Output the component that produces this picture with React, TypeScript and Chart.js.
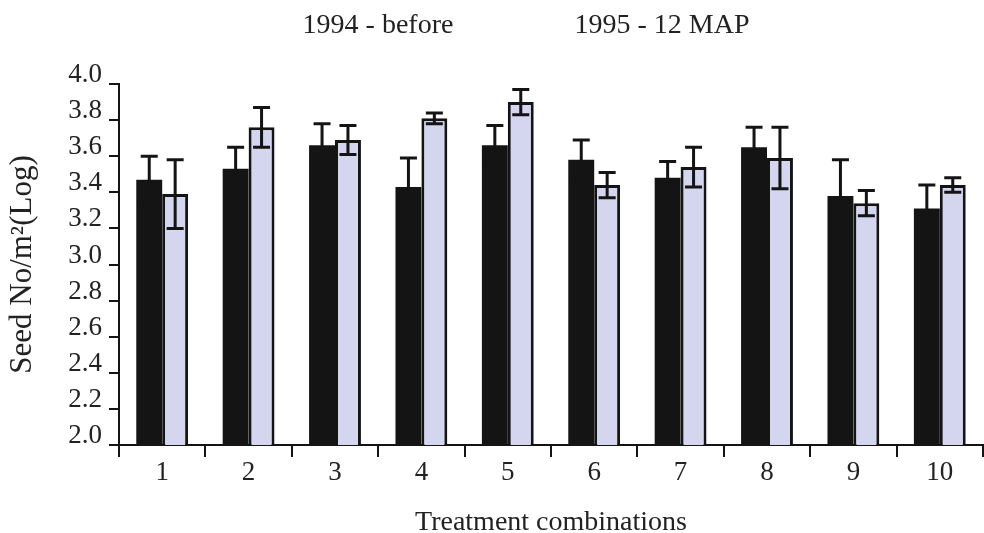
import React, { useEffect, useRef } from "react";
import { Chart, registerables } from "chart.js";

Chart.register(...registerables);

const categories = ["1", "2", "3", "4", "5", "6", "7", "8", "9", "10"];
const seriesNames = ["1994 - before", "1995 - 12 MAP"];
const before1994 = [3.47, 3.53, 3.66, 3.43, 3.66, 3.58, 3.48, 3.65, 3.38, 3.31];
const before1994Err = [0.13, 0.12, 0.12, 0.16, 0.11, 0.11, 0.09, 0.11, 0.2, 0.13];
const map1995 = [3.39, 3.76, 3.69, 3.81, 3.9, 3.44, 3.54, 3.59, 3.34, 3.44];
const map1995Err = [0.19, 0.11, 0.08, 0.03, 0.07, 0.07, 0.11, 0.17, 0.07, 0.04];
const yTicks = [2.0, 2.2, 2.4, 2.6, 2.8, 3.0, 3.2, 3.4, 3.6, 3.8, 4.0];

const FONT = "'Liberation Serif', 'Times New Roman', serif";
const INK = "#141414";

const errorBarPlugin = {
  id: "errorBars",
  afterDatasetsDraw(chart: any) {
    const ctx = chart.ctx;
    const yScale = chart.scales.y;
    const errs = [before1994Err, map1995Err];
    ctx.save();
    ctx.strokeStyle = INK;
    ctx.lineWidth = 3;
    chart.data.datasets.forEach((ds: any, i: number) => {
      const meta = chart.getDatasetMeta(i);
      meta.data.forEach((bar: any, j: number) => {
        const v = ds.data[j];
        const e = errs[i][j];
        const x = bar.x;
        const yTop = yScale.getPixelForValue(v + e);
        const yBot = yScale.getPixelForValue(v - e);
        const cap = 8.5;
        ctx.beginPath();
        ctx.moveTo(x, yTop);
        ctx.lineTo(x, yBot);
        ctx.moveTo(x - cap, yTop);
        ctx.lineTo(x + cap, yTop);
        ctx.moveTo(x - cap, yBot);
        ctx.lineTo(x + cap, yBot);
        ctx.stroke();
      });
    });
    ctx.restore();
  },
};

const seriesLabelPlugin = {
  id: "seriesLabels",
  afterDraw(chart: any) {
    const ctx = chart.ctx;
    const centers = [378, 662];
    ctx.save();
    ctx.fillStyle = "#222";
    ctx.font = `28px ${FONT}`;
    ctx.textAlign = "center";
    ctx.textBaseline = "alphabetic";
    seriesNames.forEach((name, i) => {
      ctx.fillText(name, centers[i], 33);
    });
    ctx.restore();
  },
};

export default function App() {
  const canvasRef = useRef<HTMLCanvasElement | null>(null);

  useEffect(() => {
    document.body.style.margin = "0";
    const canvas = canvasRef.current;
    if (!canvas) return;
    const chart = new Chart(canvas, {
      type: "bar",
      data: {
        labels: categories,
        datasets: [
          {
            label: seriesNames[0],
            data: before1994,
            backgroundColor: INK,
            borderColor: INK,
            borderWidth: 0,
            barPercentage: 1,
            categoryPercentage: 0.6,
          },
          {
            label: seriesNames[1],
            data: map1995,
            backgroundColor: "#d3d6ee",
            borderColor: INK,
            borderWidth: 3,
            borderSkipped: "bottom",
            barPercentage: 1,
            categoryPercentage: 0.6,
          },
        ],
      },
      options: {
        responsive: false,
        maintainAspectRatio: false,
        animation: false,
        devicePixelRatio: 1,
        layout: { padding: { top: 84, right: 1, left: 0, bottom: 0 } },
        plugins: {
          legend: { display: false },
          tooltip: { enabled: false },
          title: { display: false },
        },
        scales: {
          x: {
            type: "category",
            grid: {
              offset: true,
              drawOnChartArea: false,
              drawTicks: true,
              tickLength: 12,
              color: INK,
              lineWidth: 2,
            },
            border: { display: true, color: INK, width: 2 },
            ticks: {
              color: "#222",
              padding: 0,
              font: { family: FONT, size: 27 },
              maxRotation: 0,
              autoSkip: false,
            },
            title: {
              display: true,
              text: "Treatment combinations",
              color: "#222",
              font: { family: FONT, size: 28 },
              padding: { top: 0, bottom: -6 },
            },
            afterFit(scale: any) {
              scale.height = 88;
            },
          },
          y: {
            type: "linear",
            min: 2.0,
            max: 4.0,
            grid: {
              drawOnChartArea: false,
              drawTicks: true,
              tickLength: 10,
              color: INK,
              lineWidth: 2,
            },
            border: { display: true, color: INK, width: 2 },
            afterBuildTicks(scale: any) {
              scale.ticks = yTicks.map((v) => ({ value: v }));
            },
            ticks: {
              color: "#222",
              padding: 7,
              labelOffset: -9,
              autoSkip: false,
              font: { family: FONT, size: 27 },
              callback: (v: any) => Number(v).toFixed(1),
            },
            title: {
              display: true,
              text: "Seed No/m²(Log)",
              color: "#222",
              font: { family: FONT, size: 31 },
              padding: { top: 4, bottom: 0 },
            },
            afterFit(scale: any) {
              scale.width = 119;
            },
          },
        },
      },
      plugins: [errorBarPlugin, seriesLabelPlugin],
    });
    return () => chart.destroy();
  }, []);

  return (
    <div style={{ width: 984, height: 533, background: "#fff" }}>
      <canvas ref={canvasRef} width={984} height={533} style={{ display: "block" }} />
    </div>
  );
}
